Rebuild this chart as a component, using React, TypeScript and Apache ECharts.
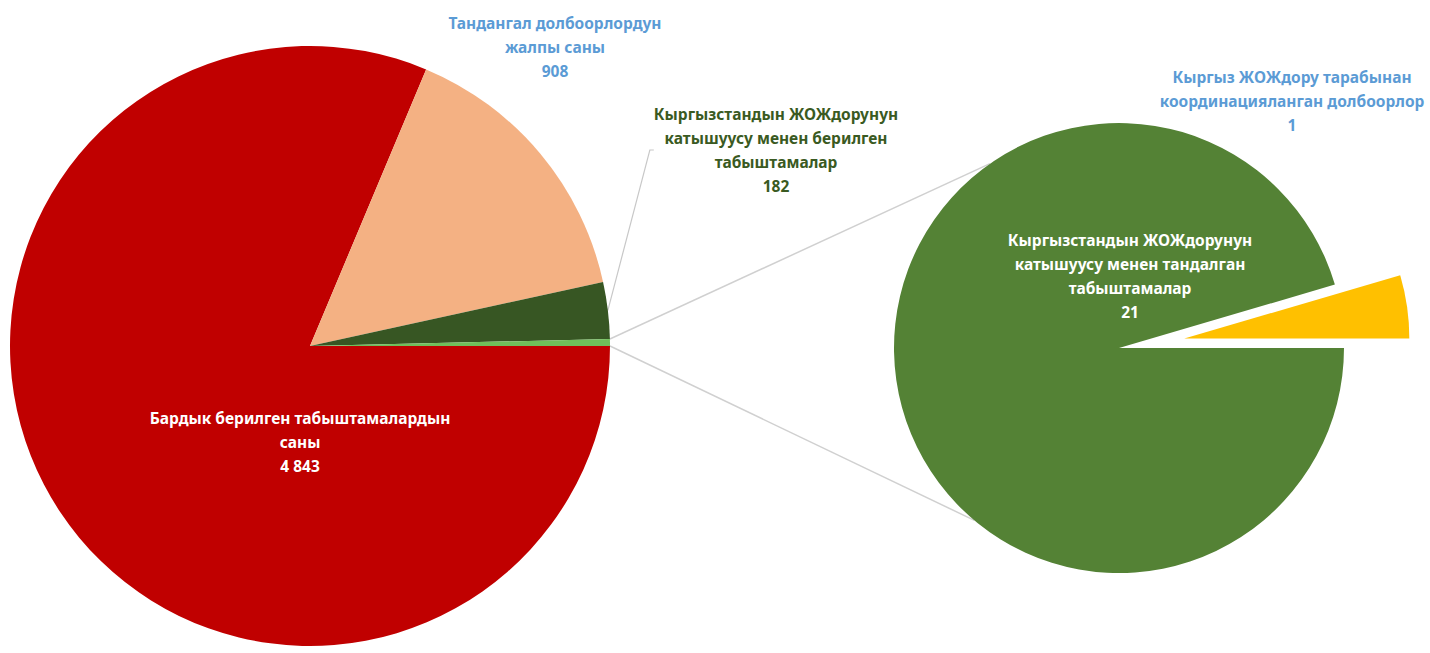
import React, { useEffect, useRef } from "react";
import * as echarts from "echarts";

const mainNames = [
  "Бардык берилген табыштамалардын\nсаны",
  "Тандангал долбоорлордун\nжалпы саны",
  "Кыргызстандын ЖОЖдорунун\nкатышуусу менен берилген\nтабыштамалар",
  "Башка",
];
const mainMainValues = [4843, 908, 182];
const mainColors = ["#C00000", "#F4B183", "#375623", "#70BF5A"];
const mainLabelColors = ["#FFFFFF", "#5B9BD5", "#3A5A22", "#FFFFFF"];

const subNames = [
  "Кыргыз ЖОЖдору тарабынан\nкоординацияланган долбоорлор",
  "Кыргызстандын ЖОЖдорунун\nкатышуусу менен тандалган\nтабыштамалар",
];
const subValues = [1, 21];
const subColors = ["#FFC000", "#548235"];
const subLabelColors = ["#5B9BD5", "#FFFFFF"];

// layout
const C1 = [310, 346];
const R1 = 300;
const C2 = [1119, 348];
const R2 = 225;
const EXPLODE = 66;
const mainLabelPos = [
  { x: 300, y: 442 },
  { x: 555, y: 47 },
  { x: 776, y: 150 },
  null,
];
const subLabelPos = [
  { x: 1292, y: 101 },
  { x: 1130, y: 276 },
];

const fmt = (v: number) => String(v).replace(/\B(?=(\d{3})+(?!\d))/g, " ");

export default function App() {
  const ref = useRef<HTMLDivElement>(null);
  useEffect(() => {
    document.body.style.margin = "0";
    const chart = echarts.init(ref.current!, null, { renderer: "svg" });
    const otherValue = subValues.reduce((a, b) => a + b, 0);
    const mainValues = [...mainMainValues, otherValue];
    const total = mainValues.reduce((a, b) => a + b, 0);
    const otherAngle = (360 * otherValue) / total;
    const subTotal = otherValue;
    const yellowMid = (360 * subValues[0]) / subTotal / 2;
    const rad = (d: number) => (d * Math.PI) / 180;
    const pt = (c: number[], r: number, a: number) => [c[0] + r * Math.cos(rad(a)), c[1] - r * Math.sin(rad(a))];
    const l1a = pt(C1, R1, otherAngle);
    const l1b = pt(C2, R2, 125);
    const l2a = pt(C1, R1, 0);
    const l2b = pt(C2, R2, -130);
    const C3 = pt(C2, EXPLODE, yellowMid);

    const labelBase = {
      fontFamily: "Noto Sans",
      fontWeight: "bold" as const,
      fontSize: 15.5,
      lineHeight: 24,
      align: "center" as const,
    };

    const subSeries = (center: number[], showIdx: number) => ({
      type: "pie",
      center,
      radius: R2,
      startAngle: 0,
      clockwise: false,
      silent: true,
      data: subValues.map((v, i) => ({
        name: subNames[i],
        value: v,
        itemStyle: { color: i === showIdx ? subColors[i] : "transparent" },
        label: {
          show: i === showIdx,
          position: "inside",
          color: subLabelColors[i],
          formatter: () => `${subNames[i]}\n${fmt(v)}`,
          ...labelBase,
        },
        labelLine: { show: false },
      })),
      labelLayout: (p: any) => {
        const pos = subLabelPos[p.dataIndex];
        return { x: pos.x, y: pos.y, align: "center", verticalAlign: "middle" };
      },
    });

    chart.setOption({
      animation: false,
      graphic: [
        { type: "line", z: 0, shape: { x1: l1a[0], y1: l1a[1], x2: l1b[0], y2: l1b[1] }, style: { stroke: "#D0D0D0", lineWidth: 1.5 } },
        { type: "line", z: 0, shape: { x1: l2a[0], y1: l2a[1], x2: l2b[0], y2: l2b[1] }, style: { stroke: "#D0D0D0", lineWidth: 1.5 } },
      ],
      series: [
        {
          type: "pie",
          center: C1,
          radius: R1,
          startAngle: 0,
          clockwise: true,
          silent: true,
          data: mainValues.map((v, i) => ({
            name: mainNames[i],
            value: v,
            itemStyle: { color: mainColors[i] },
            label: {
              show: i !== 3,
              position: i === 2 ? "outside" : "inside",
              color: mainLabelColors[i],
              formatter: () => `${mainNames[i]}\n${fmt(v)}`,
              ...labelBase,
            },
            labelLine: {
              show: i === 2,
              length: 10,
              length2: 4,
              lineStyle: { color: "#C8C8C8", width: 1.2 },
            },
          })),
          labelLayout: (p: any) => {
            const pos = mainLabelPos[p.dataIndex];
            return pos ? { x: pos.x, y: pos.y, align: "center", verticalAlign: "middle" } : {};
          },
        },
        subSeries(C2, 1),
        subSeries(C3, 0),
      ],
    });
    return () => chart.dispose();
  }, []);
  return <div ref={ref} style={{ width: 1430, height: 653 }} />;
}
